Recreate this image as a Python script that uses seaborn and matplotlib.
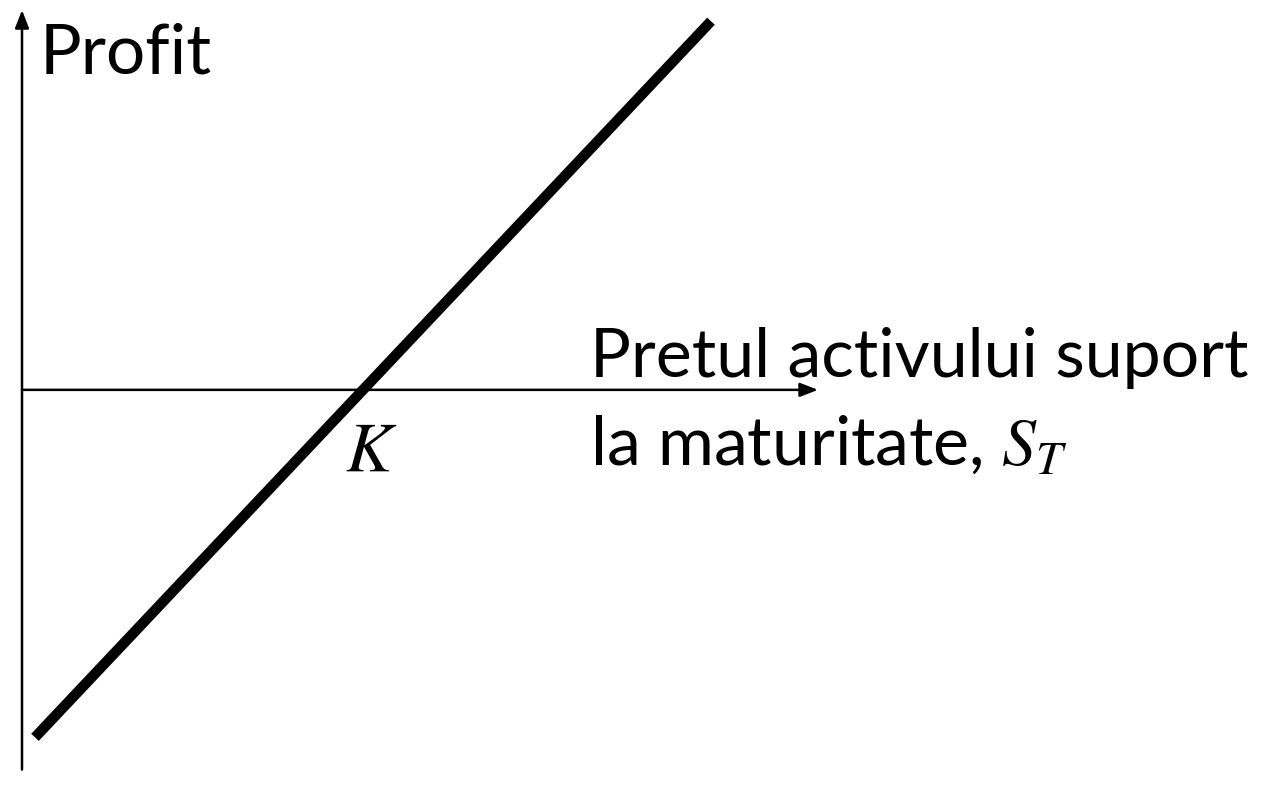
import matplotlib.pyplot as plt
import seaborn as sns
import numpy as np
import pandas as pd

# payoff of a long forward: profit = S_T - K
strike = 36.3
spot_at_maturity = [3.5, 71.1]
profit = [s - strike for s in spot_at_maturity]

# axis extents (arrows)
x_axis_range = [2.2, 81.8]
y_axis_range = [-35.85, 35.85]

sns.set_theme(style="white")
plt.rcParams['font.family'] = ['Lato', 'DejaVu Sans']
plt.rcParams['mathtext.fontset'] = 'stix'
plt.rcParams['text.color'] = 'black'

fig = plt.figure(figsize=(12.7, 7.85), dpi=100)
ax = fig.add_axes([0, 0, 1, 1])

df = pd.DataFrame({'S': spot_at_maturity, 'Profit': profit})
sns.lineplot(data=df, x='S', y='Profit', ax=ax, color='black', linewidth=7.5,
             solid_capstyle='butt')

ax.set_xlim(0, 127)
ax.set_ylim(-37.3, 36.8)
ax.axis('off')

arrow = dict(arrowstyle='-|>,head_length=0.9,head_width=0.35', color='black',
             lw=1.8, shrinkA=0, shrinkB=0)
ax.annotate('', xy=(x_axis_range[1], 0), xytext=(x_axis_range[0], 0), arrowprops=arrow)
ax.annotate('', xy=(x_axis_range[0], y_axis_range[1]), xytext=(x_axis_range[0], y_axis_range[0]),
            arrowprops=arrow)

ax.text(40 / 1270, 1 - 73 / 785, 'Profit', transform=ax.transAxes, fontsize=50,
        ha='left', va='baseline')
ax.text(590 / 1270, 1 - 377 / 785, 'Pretul activului suport', transform=ax.transAxes,
        fontsize=49, ha='left', va='baseline')
ax.text(590 / 1270, 1 - 465 / 785, r'la maturitate, $S_T$', transform=ax.transAxes,
        fontsize=49, ha='left', va='baseline')
ax.text(strike + 0.8, -7.6, '$K$', fontsize=50, ha='center', va='baseline')

fig.savefig('out.png', dpi=100)
